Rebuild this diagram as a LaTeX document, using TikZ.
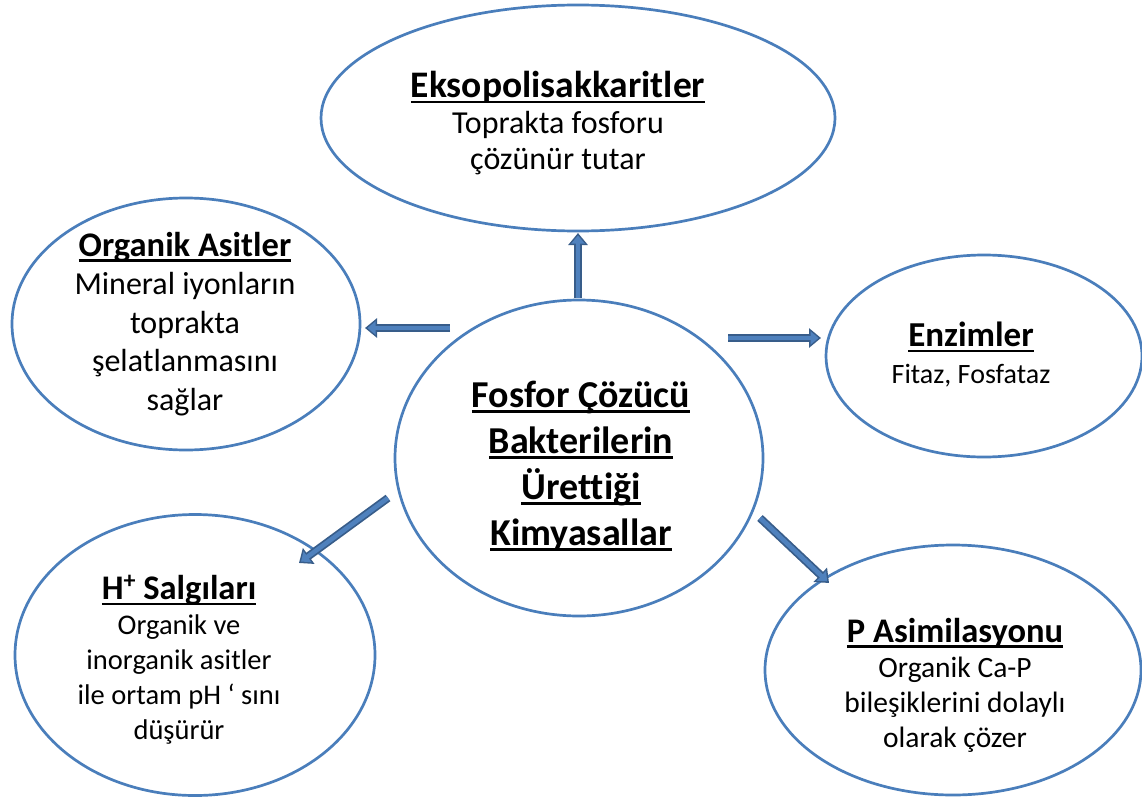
\documentclass[tikz,border=0pt]{standalone}
\usepackage{fontspec}
\setmainfont{Carlito}[Ligatures={NoCommon}]
\usetikzlibrary{shapes.geometric,arrows.meta}
\newcommand{\myul}[1]{\setbox0\hbox{#1}\leavevmode\rlap{\rule[-5.5pt]{\wd0}{2.4pt}}\box0}
\definecolor{ellblue}{HTML}{4A7EBB}
\definecolor{arrdark}{HTML}{385D8A}
\definecolor{arrfill}{HTML}{4F81BD}
\tikzset{
  bubble/.style={ellipse, draw=ellblue, line width=2.7pt, inner sep=0pt},
  txt/.style={align=center, text=black, inner sep=0pt},
  arrout/.style={draw=arrdark, line width=8pt, -{Triangle[width=19pt,length=12pt]}},
  arrin/.style={draw=arrfill, line width=4.5pt, shorten >=2.5pt, -{Triangle[width=13pt,length=8pt]}},
}
\newcommand{\fs}[2]{\fontsize{#1}{#2}\selectfont}
\begin{document}
\begin{tikzpicture}[x=1pt,y=-1pt]
\useasboundingbox (0,0) rectangle (1142,800);
% ellipses
\node[bubble, minimum width=514pt, minimum height=226pt] (top) at (578,118) {};
\node[bubble, minimum width=348pt, minimum height=252pt] (org) at (186,324) {};
\node[bubble, minimum width=316pt, minimum height=202pt] (enz) at (984,356) {};
\node[bubble, minimum width=368pt, minimum height=316pt] (cen) at (579,458) {};
\node[bubble, minimum width=360pt, minimum height=281pt] (hpl) at (195,655) {};
\node[bubble, minimum width=376pt, minimum height=250pt] (pas) at (953,670) {};
% texts
\node[txt, font=\fs{32}{36}] (ttop) at (558,123)
  {{\fs{37.5}{42}\textbf{\myul{Eksopolisakkaritler}}}\\Toprakta fosforu\\çözünür tutar};
\node[txt, font=\fs{32}{38.5}] (torg) at (185,324)
  {{\fs{34.5}{38.5}\textbf{\myul{Organik Asitler}}}\\Mineral iyonların\\toprakta\\şelatlanmasını\\sağlar};
\node[txt, font=\fs{28}{37}] (tenz) at (971,355)
  {{\fs{35}{37}\textbf{\myul{Enzimler}}}\\Fitaz, Fosfataz};
\node[txt, font=\fs{38}{46}\bfseries] (tcen) at (581,466)
  {\myul{Fosfor Çözücü}\\\myul{Bakterilerin}\\\myul{Ürettiği}\\\myul{Kimyasallar}};
\node[txt, font=\fs{28.5}{35}] (thpl) at (179,660)
  {{\fs{34.5}{37}\textbf{\myul{H\raisebox{11pt}{\fs{24}{24}+} Salgıları}}}\\Organik ve\\inorganik asitler\\ile ortam pH ‘ sını\\düşürür};
\node[txt, font=\fs{29.5}{35}] (tpas) at (955,685)
  {{\fs{34.5}{37}\textbf{\myul{P Asimilasyonu}}}\\Organik Ca-P\\bileşiklerini dolaylı\\olarak çözer};
% arrow endpoints
\coordinate (u1) at (578,298); \coordinate (u2) at (578,233);
\coordinate (l1) at (450,328); \coordinate (l2) at (365,328);
\coordinate (r1) at (728,338); \coordinate (r2) at (821,338);
\coordinate (dl1) at (388,498); \coordinate (dl2) at (299,563);
\coordinate (dr1) at (760,518); \coordinate (dr2) at (829,583);
\foreach \a/\b in {u1/u2,l1/l2,r1/r2,dl1/dl2,dr1/dr2}{
  \draw[arrout] (\a) -- (\b);
  \draw[arrin] (\a) -- (\b);
}
\end{tikzpicture}
\end{document}
